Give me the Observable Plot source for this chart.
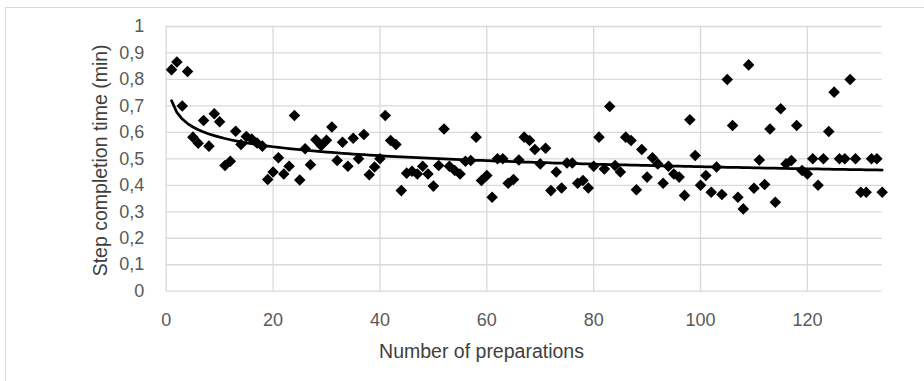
<!DOCTYPE html>
<html><head><meta charset="utf-8">
<script src="https://cdn.jsdelivr.net/npm/d3@7"></script>
<script src="https://cdn.jsdelivr.net/npm/@observablehq/plot@0.6"></script>
<style>
html,body{margin:0;padding:0;background:#fff;overflow:hidden}
#wrap{position:relative;width:924px;height:381px;overflow:hidden}
#border{position:absolute;left:5px;top:7px;width:1000px;height:1000px;border:1px solid #d9d9d9;box-sizing:border-box}
#chart{position:absolute;left:0;top:0}
</style></head><body><div id="wrap"><div id="border"></div><div id="chart"></div></div>
<script>
// Step completion time (min) for preparation 1..134
const completionTime = [
  0.837, 0.866, 0.700, 0.830, 0.582, 0.559, 0.645, 0.548, 0.670, 0.640,
  0.475, 0.491, 0.604, 0.554, 0.584, 0.575, 0.560, 0.548, 0.422, 0.450,
  0.504, 0.443, 0.472, 0.664, 0.420, 0.538, 0.478, 0.572, 0.550, 0.570,
  0.620, 0.494, 0.563, 0.472, 0.578, 0.500, 0.592, 0.440, 0.469, 0.500,
  0.664, 0.569, 0.554, 0.380, 0.446, 0.453, 0.443, 0.472, 0.443, 0.397,
  0.475, 0.613, 0.472, 0.456, 0.443, 0.491, 0.494, 0.582, 0.418, 0.437,
  0.355, 0.500, 0.500, 0.408, 0.422, 0.496, 0.582, 0.569, 0.535, 0.481,
  0.540, 0.380, 0.450, 0.390, 0.484, 0.484, 0.408, 0.418, 0.390, 0.472,
  0.582, 0.462, 0.698, 0.475, 0.450, 0.582, 0.569, 0.383, 0.535, 0.431,
  0.504, 0.481, 0.408, 0.472, 0.443, 0.431, 0.362, 0.648, 0.513, 0.400,
  0.437, 0.374, 0.469, 0.365, 0.800, 0.626, 0.355, 0.311, 0.855, 0.389,
  0.496, 0.403, 0.613, 0.336, 0.689, 0.481, 0.494, 0.626, 0.456, 0.443,
  0.500, 0.400, 0.500, 0.603, 0.752, 0.500, 0.500, 0.800, 0.500, 0.374,
  0.374, 0.500, 0.500, 0.374
];
const xTicks = [0, 20, 40, 60, 80, 100, 120];
const yTicks = [0, 0.1, 0.2, 0.3, 0.4, 0.5, 0.6, 0.7, 0.8, 0.9, 1];
const xLabel = "Number of preparations";
const yLabel = "Step completion time (min)";

const data = completionTime.map((t, i) => ({n: i + 1, t}));

// power trendline (least squares in log-log space)
const lx = data.map(d => Math.log(d.n)), ly = data.map(d => Math.log(d.t));
const mx = d3.mean(lx), my = d3.mean(ly);
const b = d3.sum(lx, (v, i) => (v - mx) * (ly[i] - my)) / d3.sum(lx, v => (v - mx) ** 2);
const a = Math.exp(my - b * mx);
const trend = data.map(d => ({n: d.n, t: a * Math.pow(d.n, b)}));

const chart = Plot.plot({
  width: 924, height: 381,
  marginLeft: 165.7, marginRight: 42.3, marginTop: 26, marginBottom: 90.3,
  style: {fontFamily: "'Liberation Sans', Arial, sans-serif", fontSize: "18px", color: "#595959", background: "transparent"},
  x: {domain: [0, 134]},
  y: {domain: [0, 1]},
  marks: [
    Plot.gridX(xTicks, {stroke: "#d9d9d9", strokeOpacity: 1, strokeWidth: 1.3}),
    Plot.gridY(yTicks, {stroke: "#d9d9d9", strokeOpacity: 1, strokeWidth: 1.3}),
    Plot.axisX(xTicks, {tickSize: 0, tickPadding: 22, label: null, fill: "#595959"}),
    Plot.axisY(yTicks, {tickSize: 0, tickPadding: 22, label: null, fill: "#595959", tickFormat: d => String(d).replace(".", ",")}),
    Plot.dot(data, {x: "n", y: "t", symbol: "diamond2", r: 5.2, fill: "#000", stroke: null}),
    Plot.line(trend, {x: "n", y: "t", stroke: "#000", strokeWidth: 2.75}),
    Plot.text([xLabel], {frameAnchor: "bottom", dy: 67, dx: -42.7, fill: "#404040", fontSize: 19.5, textAnchor: "middle"}),
    Plot.text([yLabel], {frameAnchor: "left", rotate: -90, dx: -65.7, dy: 1.5, fill: "#404040", fontSize: 19.5, textAnchor: "middle"})
  ]
});
document.getElementById("chart").appendChild(chart);
</script>
</body></html>
